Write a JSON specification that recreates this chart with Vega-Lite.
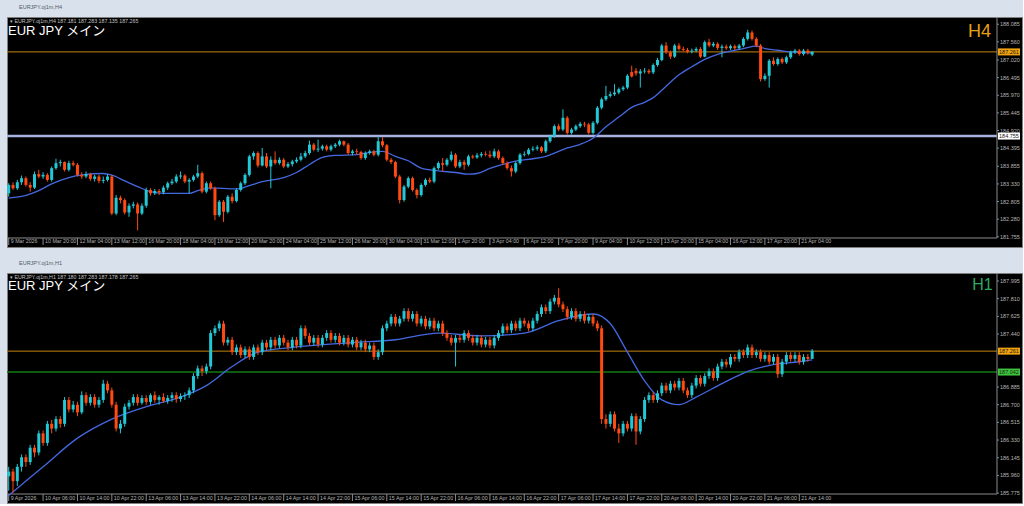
{
"$schema": "https://vega.github.io/schema/vega-lite/v6.json",
"background": "#d9e2ec",
"padding": {"left": 5, "top": 4, "right": 0, "bottom": 0},
"spacing": 12,
"config": {"view": {"fill": "#000000", "stroke": "#7f7f7f", "strokeWidth": 1}, "font": "Liberation Sans"},
"datasets": {
"h4": [
{"i":0,"o":183.05,"h":183.35,"l":182.95,"c":183.30},{"i":1,"o":183.30,"h":183.38,"l":183.15,"c":183.20},{"i":2,"o":183.20,"h":183.45,"l":183.15,"c":183.38},{"i":3,"o":183.38,"h":183.58,"l":183.30,"c":183.50},{"i":4,"o":183.50,"h":183.55,"l":183.25,"c":183.30},{"i":5,"o":183.30,"h":183.38,"l":183.10,"c":183.22},{"i":6,"o":183.22,"h":183.70,"l":183.18,"c":183.62},{"i":7,"o":183.62,"h":183.75,"l":183.50,"c":183.55},{"i":8,"o":183.55,"h":183.68,"l":183.48,"c":183.60},{"i":9,"o":183.60,"h":183.65,"l":183.40,"c":183.45},
{"i":10,"o":183.45,"h":183.85,"l":183.40,"c":183.80},{"i":11,"o":183.80,"h":184.08,"l":183.75,"c":183.95},{"i":12,"o":183.95,"h":184.05,"l":183.85,"c":183.98},{"i":13,"o":183.98,"h":184.00,"l":183.70,"c":183.75},{"i":14,"o":183.75,"h":184.02,"l":183.70,"c":183.95},{"i":15,"o":183.95,"h":184.02,"l":183.85,"c":183.90},{"i":16,"o":183.90,"h":183.95,"l":183.55,"c":183.60},{"i":17,"o":183.60,"h":183.68,"l":183.48,"c":183.55},{"i":18,"o":183.55,"h":183.70,"l":183.50,"c":183.62},{"i":19,"o":183.62,"h":183.66,"l":183.42,"c":183.48},
{"i":20,"o":183.48,"h":183.60,"l":183.40,"c":183.55},{"i":21,"o":183.55,"h":183.60,"l":183.35,"c":183.42},{"i":22,"o":183.42,"h":183.55,"l":183.35,"c":183.45},{"i":23,"o":183.45,"h":183.62,"l":183.40,"c":183.55},{"i":24,"o":183.55,"h":183.60,"l":182.40,"c":182.45},{"i":25,"o":182.45,"h":183.00,"l":182.40,"c":182.92},{"i":26,"o":182.92,"h":182.98,"l":182.75,"c":182.85},{"i":27,"o":182.85,"h":182.90,"l":182.42,"c":182.48},{"i":28,"o":182.48,"h":182.75,"l":182.35,"c":182.68},{"i":29,"o":182.68,"h":182.80,"l":182.60,"c":182.72},
{"i":30,"o":182.72,"h":182.78,"l":181.95,"c":182.45},{"i":31,"o":182.45,"h":182.75,"l":182.40,"c":182.68},{"i":32,"o":182.68,"h":183.22,"l":182.62,"c":183.15},{"i":33,"o":183.15,"h":183.20,"l":182.98,"c":183.05},{"i":34,"o":183.05,"h":183.18,"l":183.00,"c":183.12},{"i":35,"o":183.12,"h":183.18,"l":183.00,"c":183.08},{"i":36,"o":183.08,"h":183.28,"l":183.02,"c":183.22},{"i":37,"o":183.22,"h":183.40,"l":183.15,"c":183.35},{"i":38,"o":183.35,"h":183.48,"l":183.30,"c":183.40},{"i":39,"o":183.40,"h":183.62,"l":183.35,"c":183.55},
{"i":40,"o":183.55,"h":183.70,"l":183.48,"c":183.58},{"i":41,"o":183.58,"h":183.62,"l":183.35,"c":183.40},{"i":42,"o":183.40,"h":183.50,"l":183.05,"c":183.45},{"i":43,"o":183.45,"h":183.60,"l":183.40,"c":183.55},{"i":44,"o":183.55,"h":183.90,"l":183.50,"c":183.65},{"i":45,"o":183.65,"h":183.70,"l":183.05,"c":183.10},{"i":46,"o":183.10,"h":183.40,"l":183.05,"c":183.35},{"i":47,"o":183.35,"h":183.40,"l":183.15,"c":183.20},{"i":48,"o":183.20,"h":183.25,"l":182.25,"c":182.40},{"i":49,"o":182.40,"h":182.85,"l":182.35,"c":182.80},
{"i":50,"o":182.80,"h":182.85,"l":182.20,"c":182.50},{"i":51,"o":182.50,"h":183.00,"l":182.45,"c":182.95},{"i":52,"o":182.95,"h":183.05,"l":182.75,"c":182.82},{"i":53,"o":182.82,"h":183.20,"l":182.78,"c":183.15},{"i":54,"o":183.15,"h":183.40,"l":183.10,"c":183.35},{"i":55,"o":183.35,"h":183.65,"l":183.30,"c":183.60},{"i":56,"o":183.60,"h":184.20,"l":183.55,"c":184.15},{"i":57,"o":184.15,"h":184.30,"l":184.05,"c":184.25},{"i":58,"o":184.25,"h":184.30,"l":183.82,"c":183.88},{"i":59,"o":183.88,"h":184.40,"l":183.85,"c":184.15},
{"i":60,"o":184.15,"h":184.25,"l":183.80,"c":183.85},{"i":61,"o":183.85,"h":184.15,"l":183.20,"c":184.05},{"i":62,"o":184.05,"h":184.30,"l":183.90,"c":183.95},{"i":63,"o":183.95,"h":184.12,"l":183.90,"c":184.05},{"i":64,"o":184.05,"h":184.10,"l":183.80,"c":183.85},{"i":65,"o":183.85,"h":183.98,"l":183.80,"c":183.92},{"i":66,"o":183.92,"h":184.05,"l":183.85,"c":184.00},{"i":67,"o":184.00,"h":184.12,"l":183.95,"c":184.05},{"i":68,"o":184.05,"h":184.25,"l":184.00,"c":184.15},{"i":69,"o":184.15,"h":184.32,"l":184.10,"c":184.25},
{"i":70,"o":184.25,"h":184.62,"l":184.20,"c":184.50},{"i":71,"o":184.50,"h":184.55,"l":184.30,"c":184.35},{"i":72,"o":184.35,"h":184.65,"l":184.28,"c":184.38},{"i":73,"o":184.38,"h":184.50,"l":184.32,"c":184.45},{"i":74,"o":184.45,"h":184.50,"l":184.30,"c":184.35},{"i":75,"o":184.35,"h":184.50,"l":184.30,"c":184.45},{"i":76,"o":184.45,"h":184.55,"l":184.40,"c":184.50},{"i":77,"o":184.50,"h":184.65,"l":184.45,"c":184.60},{"i":78,"o":184.60,"h":184.62,"l":184.45,"c":184.50},{"i":79,"o":184.50,"h":184.55,"l":184.20,"c":184.25},
{"i":80,"o":184.25,"h":184.35,"l":184.18,"c":184.30},{"i":81,"o":184.30,"h":184.38,"l":184.20,"c":184.28},{"i":82,"o":184.28,"h":184.32,"l":184.05,"c":184.10},{"i":83,"o":184.10,"h":184.30,"l":184.05,"c":184.25},{"i":84,"o":184.25,"h":184.35,"l":184.20,"c":184.30},{"i":85,"o":184.30,"h":184.35,"l":184.15,"c":184.20},{"i":86,"o":184.20,"h":184.75,"l":184.15,"c":184.60},{"i":87,"o":184.60,"h":184.72,"l":184.42,"c":184.48},{"i":88,"o":184.48,"h":184.52,"l":184.00,"c":184.05},{"i":89,"o":184.05,"h":184.10,"l":183.92,"c":183.98},
{"i":90,"o":183.98,"h":184.02,"l":183.50,"c":183.55},{"i":91,"o":183.55,"h":183.60,"l":182.75,"c":182.85},{"i":92,"o":182.85,"h":183.30,"l":182.80,"c":183.25},{"i":93,"o":183.25,"h":183.55,"l":183.20,"c":183.50},{"i":94,"o":183.50,"h":183.55,"l":183.10,"c":183.15},{"i":95,"o":183.15,"h":183.20,"l":182.90,"c":183.00},{"i":96,"o":183.00,"h":183.35,"l":182.95,"c":183.30},{"i":97,"o":183.30,"h":183.50,"l":183.25,"c":183.45},{"i":98,"o":183.45,"h":183.52,"l":183.35,"c":183.40},{"i":99,"o":183.40,"h":183.85,"l":183.35,"c":183.80},
{"i":100,"o":183.80,"h":184.00,"l":183.75,"c":183.95},{"i":101,"o":183.95,"h":184.10,"l":183.70,"c":183.90},{"i":102,"o":183.90,"h":184.10,"l":183.85,"c":184.05},{"i":103,"o":184.05,"h":184.30,"l":184.00,"c":184.20},{"i":104,"o":184.20,"h":184.25,"l":183.80,"c":183.85},{"i":105,"o":183.85,"h":184.05,"l":183.80,"c":183.98},{"i":106,"o":183.98,"h":184.05,"l":183.75,"c":183.90},{"i":107,"o":183.90,"h":184.20,"l":183.85,"c":184.15},{"i":108,"o":184.15,"h":184.20,"l":184.08,"c":184.12},{"i":109,"o":184.12,"h":184.25,"l":184.08,"c":184.18},
{"i":110,"o":184.18,"h":184.28,"l":184.12,"c":184.22},{"i":111,"o":184.22,"h":184.30,"l":184.15,"c":184.20},{"i":112,"o":184.20,"h":184.32,"l":184.10,"c":184.15},{"i":113,"o":184.15,"h":184.38,"l":184.10,"c":184.30},{"i":114,"o":184.30,"h":184.35,"l":184.05,"c":184.10},{"i":115,"o":184.10,"h":184.15,"l":183.90,"c":183.95},{"i":116,"o":183.95,"h":184.00,"l":183.75,"c":183.80},{"i":117,"o":183.80,"h":183.88,"l":183.55,"c":183.70},{"i":118,"o":183.70,"h":184.00,"l":183.65,"c":183.95},{"i":119,"o":183.95,"h":184.25,"l":183.90,"c":184.20},
{"i":120,"o":184.20,"h":184.30,"l":184.15,"c":184.22},{"i":121,"o":184.22,"h":184.40,"l":184.18,"c":184.35},{"i":122,"o":184.35,"h":184.45,"l":184.30,"c":184.38},{"i":123,"o":184.38,"h":184.48,"l":184.32,"c":184.42},{"i":124,"o":184.42,"h":184.46,"l":184.25,"c":184.30},{"i":125,"o":184.30,"h":184.65,"l":184.25,"c":184.60},{"i":126,"o":184.60,"h":184.80,"l":184.55,"c":184.75},{"i":127,"o":184.75,"h":185.10,"l":184.70,"c":185.05},{"i":128,"o":185.05,"h":185.12,"l":184.90,"c":184.95},{"i":129,"o":184.95,"h":185.55,"l":184.90,"c":185.30},
{"i":130,"o":185.30,"h":185.35,"l":184.80,"c":184.85},{"i":131,"o":184.85,"h":185.00,"l":184.80,"c":184.95},{"i":132,"o":184.95,"h":185.10,"l":184.90,"c":185.05},{"i":133,"o":185.05,"h":185.18,"l":185.00,"c":185.12},{"i":134,"o":185.12,"h":185.18,"l":185.02,"c":185.10},{"i":135,"o":185.10,"h":185.15,"l":184.80,"c":184.85},{"i":136,"o":184.85,"h":185.20,"l":184.80,"c":185.15},{"i":137,"o":185.15,"h":185.65,"l":185.10,"c":185.60},{"i":138,"o":185.60,"h":185.90,"l":185.55,"c":185.85},{"i":139,"o":185.85,"h":186.25,"l":185.80,"c":185.95},
{"i":140,"o":185.95,"h":186.08,"l":185.90,"c":186.00},{"i":141,"o":186.00,"h":186.30,"l":185.95,"c":186.05},{"i":142,"o":186.05,"h":186.20,"l":186.00,"c":186.15},{"i":143,"o":186.15,"h":186.25,"l":186.10,"c":186.20},{"i":144,"o":186.20,"h":186.60,"l":186.15,"c":186.55},{"i":145,"o":186.66,"h":186.85,"l":186.50,"c":186.53},{"i":146,"o":186.70,"h":186.78,"l":186.55,"c":186.62},{"i":147,"o":186.62,"h":186.75,"l":186.20,"c":186.68},{"i":148,"o":186.68,"h":186.78,"l":186.62,"c":186.70},{"i":149,"o":186.70,"h":186.75,"l":186.60,"c":186.65},
{"i":150,"o":186.65,"h":186.92,"l":186.60,"c":186.87},{"i":151,"o":186.87,"h":187.08,"l":186.82,"c":187.02},{"i":152,"o":187.02,"h":187.50,"l":186.98,"c":187.45},{"i":153,"o":187.45,"h":187.55,"l":187.20,"c":187.25},{"i":154,"o":187.25,"h":187.30,"l":187.05,"c":187.12},{"i":155,"o":187.12,"h":187.50,"l":187.08,"c":187.45},{"i":156,"o":187.45,"h":187.52,"l":187.30,"c":187.35},{"i":157,"o":187.35,"h":187.42,"l":187.28,"c":187.32},{"i":158,"o":187.32,"h":187.38,"l":187.22,"c":187.27},{"i":159,"o":187.27,"h":187.36,"l":187.22,"c":187.30},
{"i":160,"o":187.30,"h":187.40,"l":187.25,"c":187.35},{"i":161,"o":187.35,"h":187.40,"l":187.08,"c":187.12},{"i":162,"o":187.12,"h":187.60,"l":187.10,"c":187.55},{"i":163,"o":187.55,"h":187.65,"l":187.40,"c":187.45},{"i":164,"o":187.45,"h":187.56,"l":187.40,"c":187.50},{"i":165,"o":187.50,"h":187.55,"l":187.32,"c":187.38},{"i":166,"o":187.38,"h":187.48,"l":187.10,"c":187.42},{"i":167,"o":187.42,"h":187.48,"l":187.32,"c":187.37},{"i":168,"o":187.37,"h":187.48,"l":187.32,"c":187.43},{"i":169,"o":187.43,"h":187.48,"l":187.32,"c":187.37},
{"i":170,"o":187.37,"h":187.50,"l":187.32,"c":187.45},{"i":171,"o":187.45,"h":187.70,"l":187.40,"c":187.65},{"i":172,"o":187.65,"h":187.92,"l":187.60,"c":187.84},{"i":173,"o":187.84,"h":187.90,"l":187.60,"c":187.65},{"i":174,"o":187.65,"h":187.70,"l":187.40,"c":187.45},{"i":175,"o":187.45,"h":187.50,"l":186.38,"c":186.45},{"i":176,"o":186.45,"h":186.62,"l":186.40,"c":186.55},{"i":177,"o":186.55,"h":187.05,"l":186.20,"c":187.00},{"i":178,"o":187.00,"h":187.10,"l":186.85,"c":186.90},{"i":179,"o":186.90,"h":187.10,"l":186.85,"c":187.05},
{"i":180,"o":187.05,"h":187.10,"l":186.90,"c":186.95},{"i":181,"o":186.95,"h":187.15,"l":186.90,"c":187.10},{"i":182,"o":187.10,"h":187.30,"l":187.05,"c":187.25},{"i":183,"o":187.25,"h":187.35,"l":187.20,"c":187.30},{"i":184,"o":187.30,"h":187.35,"l":187.15,"c":187.20},{"i":185,"o":187.20,"h":187.35,"l":187.15,"c":187.30},{"i":186,"o":187.30,"h":187.35,"l":187.18,"c":187.23},{"i":187,"o":187.181,"h":187.283,"l":187.135,"c":187.265}
],
"h4ma": [{"i":0,"m":182.91},{"i":4,"m":182.99},{"i":7,"m":183.13},{"i":10,"m":183.33},{"i":14,"m":183.52},{"i":17,"m":183.6},{"i":22,"m":183.64},{"i":24,"m":183.59},{"i":27,"m":183.42},{"i":30,"m":183.25},{"i":33,"m":183.1},{"i":36,"m":183.05},{"i":42,"m":183.05},{"i":44,"m":183.13},{"i":47,"m":183.21},{"i":53,"m":183.18},{"i":56,"m":183.28},{"i":59,"m":183.4},{"i":64,"m":183.52},{"i":67,"m":183.67},{"i":70,"m":183.91},{"i":73,"m":184.12},{"i":76,"m":184.18},{"i":81,"m":184.2},{"i":84,"m":184.27},{"i":87,"m":184.3},{"i":90,"m":184.15},{"i":93,"m":184.02},{"i":96,"m":183.8},{"i":100,"m":183.72},{"i":104,"m":183.67},{"i":107,"m":183.62},{"i":109,"m":183.64},{"i":112,"m":183.79},{"i":115,"m":183.91},{"i":118,"m":184.01},{"i":122,"m":184.08},{"i":125,"m":184.15},{"i":128,"m":184.3},{"i":130,"m":184.4},{"i":133,"m":184.51},{"i":136,"m":184.69},{"i":139,"m":185.03},{"i":142,"m":185.32},{"i":145,"m":185.61},{"i":148,"m":185.76},{"i":150,"m":185.9},{"i":153,"m":186.24},{"i":156,"m":186.58},{"i":159,"m":186.82},{"i":162,"m":187.04},{"i":165,"m":187.19},{"i":168,"m":187.28},{"i":171,"m":187.36},{"i":174,"m":187.43},{"i":176,"m":187.36},{"i":179,"m":187.31},{"i":182,"m":187.26},{"i":185,"m":187.24},{"i":187,"m":187.23}],
"h1": [
{"i":0,"o":185.95,"h":186.05,"l":185.80,"c":186.00},{"i":1,"o":186.00,"h":186.03,"l":185.78,"c":185.90},{"i":2,"o":185.90,"h":186.08,"l":185.85,"c":186.05},{"i":3,"o":186.05,"h":186.18,"l":186.00,"c":186.15},{"i":4,"o":186.15,"h":186.18,"l":186.05,"c":186.10},{"i":5,"o":186.10,"h":186.28,"l":186.07,"c":186.25},{"i":6,"o":186.25,"h":186.28,"l":186.15,"c":186.20},{"i":7,"o":186.20,"h":186.43,"l":186.17,"c":186.40},{"i":8,"o":186.40,"h":186.43,"l":186.27,"c":186.30},{"i":9,"o":186.30,"h":186.53,"l":186.27,"c":186.50},
{"i":10,"o":186.50,"h":186.54,"l":186.40,"c":186.45},{"i":11,"o":186.45,"h":186.58,"l":186.42,"c":186.55},{"i":12,"o":186.55,"h":186.58,"l":186.46,"c":186.50},{"i":13,"o":186.50,"h":186.78,"l":186.47,"c":186.75},{"i":14,"o":186.75,"h":186.78,"l":186.62,"c":186.65},{"i":15,"o":186.65,"h":186.74,"l":186.62,"c":186.70},{"i":16,"o":186.70,"h":186.73,"l":186.58,"c":186.62},{"i":17,"o":186.62,"h":186.84,"l":186.60,"c":186.80},{"i":18,"o":186.80,"h":186.83,"l":186.69,"c":186.72},{"i":19,"o":186.72,"h":186.81,"l":186.69,"c":186.78},
{"i":20,"o":186.78,"h":186.81,"l":186.67,"c":186.70},{"i":21,"o":186.70,"h":186.78,"l":186.67,"c":186.75},{"i":22,"o":186.75,"h":186.96,"l":186.72,"c":186.92},{"i":23,"o":186.92,"h":186.95,"l":186.82,"c":186.85},{"i":24,"o":186.85,"h":186.88,"l":186.67,"c":186.70},{"i":25,"o":186.70,"h":186.73,"l":186.42,"c":186.45},{"i":26,"o":186.45,"h":186.54,"l":186.40,"c":186.50},{"i":27,"o":186.50,"h":186.71,"l":186.47,"c":186.68},{"i":28,"o":186.68,"h":186.75,"l":186.65,"c":186.72},{"i":29,"o":186.72,"h":186.81,"l":186.69,"c":186.78},
{"i":30,"o":186.78,"h":186.81,"l":186.69,"c":186.72},{"i":31,"o":186.72,"h":186.80,"l":186.70,"c":186.77},{"i":32,"o":186.77,"h":186.80,"l":186.70,"c":186.73},{"i":33,"o":186.73,"h":186.82,"l":186.70,"c":186.80},{"i":34,"o":186.80,"h":186.84,"l":186.72,"c":186.75},{"i":35,"o":186.75,"h":186.80,"l":186.70,"c":186.78},{"i":36,"o":186.78,"h":186.82,"l":186.72,"c":186.74},{"i":37,"o":186.74,"h":186.80,"l":186.71,"c":186.77},{"i":38,"o":186.77,"h":186.83,"l":186.73,"c":186.80},{"i":39,"o":186.80,"h":186.83,"l":186.72,"c":186.76},
{"i":40,"o":186.76,"h":186.82,"l":186.73,"c":186.79},{"i":41,"o":186.79,"h":186.83,"l":186.75,"c":186.80},{"i":42,"o":186.80,"h":186.88,"l":186.77,"c":186.85},{"i":43,"o":186.85,"h":187.03,"l":186.82,"c":187.00},{"i":44,"o":187.00,"h":187.11,"l":186.97,"c":187.08},{"i":45,"o":187.08,"h":187.11,"l":187.00,"c":187.05},{"i":46,"o":187.05,"h":187.13,"l":187.02,"c":187.10},{"i":47,"o":187.10,"h":187.48,"l":187.07,"c":187.45},{"i":48,"o":187.45,"h":187.53,"l":187.42,"c":187.50},{"i":49,"o":187.50,"h":187.58,"l":187.47,"c":187.55},
{"i":50,"o":187.55,"h":187.58,"l":187.32,"c":187.35},{"i":51,"o":187.35,"h":187.41,"l":187.32,"c":187.38},{"i":52,"o":187.38,"h":187.41,"l":187.22,"c":187.25},{"i":53,"o":187.25,"h":187.33,"l":187.22,"c":187.30},{"i":54,"o":187.30,"h":187.33,"l":187.19,"c":187.22},{"i":55,"o":187.22,"h":187.31,"l":187.19,"c":187.28},{"i":56,"o":187.28,"h":187.31,"l":187.17,"c":187.20},{"i":57,"o":187.20,"h":187.33,"l":187.17,"c":187.30},{"i":58,"o":187.30,"h":187.33,"l":187.22,"c":187.25},{"i":59,"o":187.25,"h":187.38,"l":187.22,"c":187.35},
{"i":60,"o":187.35,"h":187.38,"l":187.27,"c":187.30},{"i":61,"o":187.30,"h":187.41,"l":187.27,"c":187.38},{"i":62,"o":187.38,"h":187.41,"l":187.29,"c":187.32},{"i":63,"o":187.32,"h":187.43,"l":187.29,"c":187.40},{"i":64,"o":187.40,"h":187.43,"l":187.32,"c":187.35},{"i":65,"o":187.35,"h":187.38,"l":187.27,"c":187.30},{"i":66,"o":187.30,"h":187.41,"l":187.27,"c":187.38},{"i":67,"o":187.38,"h":187.41,"l":187.29,"c":187.32},{"i":68,"o":187.32,"h":187.53,"l":187.29,"c":187.50},{"i":69,"o":187.50,"h":187.53,"l":187.39,"c":187.42},
{"i":70,"o":187.42,"h":187.45,"l":187.32,"c":187.35},{"i":71,"o":187.35,"h":187.43,"l":187.32,"c":187.40},{"i":72,"o":187.40,"h":187.43,"l":187.30,"c":187.33},{"i":73,"o":187.33,"h":187.43,"l":187.30,"c":187.40},{"i":74,"o":187.40,"h":187.48,"l":187.37,"c":187.45},{"i":75,"o":187.45,"h":187.48,"l":187.35,"c":187.38},{"i":76,"o":187.38,"h":187.45,"l":187.35,"c":187.42},{"i":77,"o":187.42,"h":187.45,"l":187.32,"c":187.35},{"i":78,"o":187.35,"h":187.43,"l":187.32,"c":187.40},{"i":79,"o":187.40,"h":187.43,"l":187.30,"c":187.33},
{"i":80,"o":187.33,"h":187.41,"l":187.30,"c":187.38},{"i":81,"o":187.38,"h":187.41,"l":187.27,"c":187.30},{"i":82,"o":187.30,"h":187.38,"l":187.27,"c":187.35},{"i":83,"o":187.35,"h":187.38,"l":187.25,"c":187.28},{"i":84,"o":187.28,"h":187.35,"l":187.25,"c":187.32},{"i":85,"o":187.32,"h":187.35,"l":187.17,"c":187.20},{"i":86,"o":187.20,"h":187.28,"l":187.17,"c":187.25},{"i":87,"o":187.25,"h":187.53,"l":187.22,"c":187.50},{"i":88,"o":187.50,"h":187.58,"l":187.47,"c":187.55},{"i":89,"o":187.55,"h":187.65,"l":187.52,"c":187.62},
{"i":90,"o":187.62,"h":187.65,"l":187.52,"c":187.55},{"i":91,"o":187.55,"h":187.63,"l":187.52,"c":187.60},{"i":92,"o":187.60,"h":187.71,"l":187.57,"c":187.68},{"i":93,"o":187.68,"h":187.71,"l":187.57,"c":187.60},{"i":94,"o":187.60,"h":187.68,"l":187.57,"c":187.65},{"i":95,"o":187.65,"h":187.68,"l":187.52,"c":187.55},{"i":96,"o":187.55,"h":187.63,"l":187.52,"c":187.60},{"i":97,"o":187.60,"h":187.63,"l":187.49,"c":187.52},{"i":98,"o":187.52,"h":187.61,"l":187.49,"c":187.58},{"i":99,"o":187.58,"h":187.61,"l":187.47,"c":187.50},
{"i":100,"o":187.50,"h":187.58,"l":187.47,"c":187.55},{"i":101,"o":187.55,"h":187.58,"l":187.42,"c":187.45},{"i":102,"o":187.45,"h":187.48,"l":187.37,"c":187.40},{"i":103,"o":187.40,"h":187.43,"l":187.32,"c":187.35},{"i":104,"o":187.35,"h":187.43,"l":187.10,"c":187.40},{"i":105,"o":187.40,"h":187.43,"l":187.35,"c":187.38},{"i":106,"o":187.38,"h":187.48,"l":187.35,"c":187.45},{"i":107,"o":187.45,"h":187.48,"l":187.37,"c":187.40},{"i":108,"o":187.40,"h":187.43,"l":187.32,"c":187.35},{"i":109,"o":187.35,"h":187.43,"l":187.32,"c":187.40},
{"i":110,"o":187.40,"h":187.43,"l":187.30,"c":187.33},{"i":111,"o":187.33,"h":187.41,"l":187.30,"c":187.38},{"i":112,"o":187.38,"h":187.41,"l":187.29,"c":187.32},{"i":113,"o":187.32,"h":187.43,"l":187.29,"c":187.40},{"i":114,"o":187.40,"h":187.48,"l":187.37,"c":187.45},{"i":115,"o":187.45,"h":187.55,"l":187.42,"c":187.52},{"i":116,"o":187.52,"h":187.55,"l":187.45,"c":187.48},{"i":117,"o":187.48,"h":187.58,"l":187.45,"c":187.55},{"i":118,"o":187.55,"h":187.58,"l":187.47,"c":187.50},{"i":119,"o":187.50,"h":187.61,"l":187.47,"c":187.58},
{"i":120,"o":187.58,"h":187.61,"l":187.52,"c":187.55},{"i":121,"o":187.55,"h":187.58,"l":187.47,"c":187.50},{"i":122,"o":187.50,"h":187.61,"l":187.47,"c":187.58},{"i":123,"o":187.58,"h":187.68,"l":187.55,"c":187.65},{"i":124,"o":187.65,"h":187.75,"l":187.62,"c":187.72},{"i":125,"o":187.72,"h":187.75,"l":187.65,"c":187.68},{"i":126,"o":187.68,"h":187.81,"l":187.65,"c":187.78},{"i":127,"o":187.78,"h":187.85,"l":187.75,"c":187.82},{"i":128,"o":187.82,"h":187.92,"l":187.72,"c":187.75},{"i":129,"o":187.75,"h":187.78,"l":187.67,"c":187.70},
{"i":130,"o":187.70,"h":187.73,"l":187.59,"c":187.62},{"i":131,"o":187.62,"h":187.71,"l":187.59,"c":187.68},{"i":132,"o":187.68,"h":187.71,"l":187.57,"c":187.60},{"i":133,"o":187.60,"h":187.68,"l":187.57,"c":187.65},{"i":134,"o":187.65,"h":187.68,"l":187.55,"c":187.58},{"i":135,"o":187.58,"h":187.65,"l":187.55,"c":187.62},{"i":136,"o":187.62,"h":187.65,"l":187.52,"c":187.55},{"i":137,"o":187.55,"h":187.58,"l":187.47,"c":187.50},{"i":138,"o":187.50,"h":187.53,"l":186.50,"c":186.55},{"i":139,"o":186.55,"h":186.60,"l":186.45,"c":186.50},
{"i":140,"o":186.50,"h":186.63,"l":186.47,"c":186.60},{"i":141,"o":186.60,"h":186.63,"l":186.42,"c":186.45},{"i":142,"o":186.45,"h":186.50,"l":186.30,"c":186.40},{"i":143,"o":186.40,"h":186.53,"l":186.37,"c":186.50},{"i":144,"o":186.50,"h":186.53,"l":186.42,"c":186.45},{"i":145,"o":186.45,"h":186.61,"l":186.42,"c":186.58},{"i":146,"o":186.58,"h":186.61,"l":186.28,"c":186.42},{"i":147,"o":186.42,"h":186.58,"l":186.39,"c":186.55},{"i":148,"o":186.55,"h":186.78,"l":186.52,"c":186.75},{"i":149,"o":186.75,"h":186.83,"l":186.72,"c":186.80},
{"i":150,"o":186.80,"h":186.83,"l":186.72,"c":186.75},{"i":151,"o":186.75,"h":186.85,"l":186.72,"c":186.82},{"i":152,"o":186.82,"h":186.93,"l":186.79,"c":186.90},{"i":153,"o":186.90,"h":186.93,"l":186.82,"c":186.85},{"i":154,"o":186.85,"h":186.95,"l":186.82,"c":186.92},{"i":155,"o":186.92,"h":186.95,"l":186.85,"c":186.88},{"i":156,"o":186.88,"h":186.98,"l":186.85,"c":186.95},{"i":157,"o":186.95,"h":186.98,"l":186.82,"c":186.85},{"i":158,"o":186.85,"h":186.88,"l":186.77,"c":186.80},{"i":159,"o":186.80,"h":186.93,"l":186.77,"c":186.90},
{"i":160,"o":186.90,"h":187.01,"l":186.87,"c":186.98},{"i":161,"o":186.98,"h":187.01,"l":186.89,"c":186.92},{"i":162,"o":186.92,"h":187.03,"l":186.89,"c":187.00},{"i":163,"o":187.00,"h":187.08,"l":186.97,"c":187.05},{"i":164,"o":187.05,"h":187.08,"l":186.95,"c":186.98},{"i":165,"o":186.98,"h":187.13,"l":186.95,"c":187.10},{"i":166,"o":187.10,"h":187.18,"l":187.07,"c":187.15},{"i":167,"o":187.15,"h":187.18,"l":187.09,"c":187.12},{"i":168,"o":187.12,"h":187.23,"l":187.09,"c":187.20},{"i":169,"o":187.20,"h":187.23,"l":187.15,"c":187.18},
{"i":170,"o":187.18,"h":187.28,"l":187.15,"c":187.25},{"i":171,"o":187.25,"h":187.28,"l":187.19,"c":187.22},{"i":172,"o":187.22,"h":187.33,"l":187.19,"c":187.30},{"i":173,"o":187.30,"h":187.33,"l":187.19,"c":187.22},{"i":174,"o":187.22,"h":187.28,"l":187.19,"c":187.25},{"i":175,"o":187.25,"h":187.28,"l":187.15,"c":187.18},{"i":176,"o":187.18,"h":187.25,"l":187.15,"c":187.22},{"i":177,"o":187.22,"h":187.25,"l":187.12,"c":187.15},{"i":178,"o":187.15,"h":187.23,"l":187.12,"c":187.20},{"i":179,"o":187.20,"h":187.23,"l":186.98,"c":187.02},
{"i":180,"o":187.02,"h":187.18,"l":186.99,"c":187.15},{"i":181,"o":187.15,"h":187.25,"l":187.12,"c":187.22},{"i":182,"o":187.22,"h":187.25,"l":187.15,"c":187.18},{"i":183,"o":187.18,"h":187.25,"l":187.15,"c":187.22},{"i":184,"o":187.22,"h":187.25,"l":187.12,"c":187.15},{"i":185,"o":187.15,"h":187.23,"l":187.12,"c":187.20},{"i":186,"o":187.20,"h":187.23,"l":187.15,"c":187.18},{"i":187,"o":187.18,"h":187.283,"l":187.178,"c":187.265}
],
"h1ma": [{"i":0,"m":185.75},{"i":8,"m":186.05},{"i":16,"m":186.35},{"i":24,"m":186.55},{"i":32,"m":186.68},{"i":40,"m":186.78},{"i":46,"m":186.9},{"i":52,"m":187.1},{"i":58,"m":187.25},{"i":66,"m":187.3},{"i":80,"m":187.35},{"i":90,"m":187.38},{"i":100,"m":187.45},{"i":110,"m":187.42},{"i":120,"m":187.45},{"i":128,"m":187.58},{"i":136,"m":187.65},{"i":140,"m":187.55},{"i":144,"m":187.25},{"i":148,"m":186.95},{"i":152,"m":186.75},{"i":156,"m":186.7},{"i":160,"m":186.78},{"i":166,"m":186.92},{"i":172,"m":187.05},{"i":178,"m":187.12},{"i":184,"m":187.15},{"i":187,"m":187.17}],
"h4t": [{"i":0,"t":"9 Mar 2026"},{"i":8,"t":"10 Mar 20:00"},{"i":16,"t":"12 Mar 04:00"},{"i":24,"t":"13 Mar 12:00"},{"i":32,"t":"16 Mar 20:00"},{"i":40,"t":"18 Mar 04:00"},{"i":48,"t":"19 Mar 12:00"},{"i":56,"t":"20 Mar 20:00"},{"i":64,"t":"24 Mar 04:00"},{"i":72,"t":"25 Mar 12:00"},{"i":80,"t":"26 Mar 20:00"},{"i":88,"t":"30 Mar 04:00"},{"i":96,"t":"31 Mar 12:00"},{"i":104,"t":"1 Apr 20:00"},{"i":112,"t":"3 Apr 04:00"},{"i":120,"t":"6 Apr 12:00"},{"i":128,"t":"7 Apr 20:00"},{"i":136,"t":"9 Apr 04:00"},{"i":144,"t":"10 Apr 12:00"},{"i":152,"t":"13 Apr 20:00"},{"i":160,"t":"15 Apr 04:00"},{"i":168,"t":"16 Apr 12:00"},{"i":176,"t":"17 Apr 20:00"},{"i":184,"t":"21 Apr 04:00"}],
"h1t": [{"i":0,"t":"9 Apr 2026"},{"i":8,"t":"10 Apr 06:00"},{"i":16,"t":"10 Apr 14:00"},{"i":24,"t":"10 Apr 22:00"},{"i":32,"t":"13 Apr 06:00"},{"i":40,"t":"13 Apr 14:00"},{"i":48,"t":"13 Apr 22:00"},{"i":56,"t":"14 Apr 06:00"},{"i":64,"t":"14 Apr 14:00"},{"i":72,"t":"14 Apr 22:00"},{"i":80,"t":"15 Apr 06:00"},{"i":88,"t":"15 Apr 14:00"},{"i":96,"t":"15 Apr 22:00"},{"i":104,"t":"16 Apr 06:00"},{"i":112,"t":"16 Apr 14:00"},{"i":120,"t":"16 Apr 22:00"},{"i":128,"t":"17 Apr 06:00"},{"i":136,"t":"17 Apr 14:00"},{"i":144,"t":"17 Apr 22:00"},{"i":152,"t":"20 Apr 06:00"},{"i":160,"t":"20 Apr 14:00"},{"i":168,"t":"20 Apr 22:00"},{"i":176,"t":"21 Apr 06:00"},{"i":184,"t":"21 Apr 14:00"}],
"h4y": [{"v":188.085},{"v":187.56},{"v":187.02},{"v":186.495},{"v":185.97},{"v":185.445},{"v":184.92},{"v":184.395},{"v":183.855},{"v":183.33},{"v":182.805},{"v":182.28},{"v":181.755}],
"h1y": [{"v":187.995},{"v":187.81},{"v":187.625},{"v":187.44},{"v":186.885},{"v":186.7},{"v":186.515},{"v":186.33},{"v":186.145},{"v":185.96},{"v":185.775}]
},
"vconcat": [
{
"width": 1015, "height": 230,
"title": {"text": "EURJPY.oj1m,H4", "anchor": "start", "frame": "group", "dx": 12, "offset": 6.5, "fontSize": 5.5, "font": "Liberation Sans", "fontWeight": "normal", "color": "#505a66"},
"layer": [
{"data": {"values": [{"v": 184.755}]},
 "mark": {"type": "rule", "color": "#a7b1dd", "strokeWidth": 2.5},
 "encoding": {
  "x": {"datum": -0.4, "type": "quantitative", "scale": {"domain": [-0.4, 235.84], "nice": false, "zero": false}, "axis": null},
  "x2": {"datum": 230.02},
  "y": {"field": "v", "type": "quantitative", "scale": {"domain": [181.452, 188.3], "nice": false, "zero": false}, "axis": null}}},
{"data": {"values": [{"v": 187.261}]},
 "mark": {"type": "rule", "color": "#c4850e", "strokeWidth": 1},
 "encoding": {
  "x": {"datum": -0.4, "type": "quantitative", "scale": {"domain": [-0.4, 235.84], "nice": false, "zero": false}, "axis": null},
  "x2": {"datum": 230.02},
  "y": {"field": "v", "type": "quantitative", "scale": {"domain": [181.452, 188.3], "nice": false, "zero": false}, "axis": null}}},
{"data": {"values": [{"a": -0.4, "b": 230.02, "p": 181.72, "q": 181.72}, {"a": 230.02, "b": 230.02, "p": 181.72, "q": 188.3}]},
 "mark": {"type": "rule", "color": "#8c8c8c", "strokeWidth": 1},
 "encoding": {
  "x": {"field": "a", "type": "quantitative", "scale": {"domain": [-0.4, 235.84], "nice": false, "zero": false}, "axis": null},
  "x2": {"field": "b"},
  "y": {"field": "p", "type": "quantitative", "scale": {"domain": [181.452, 188.3], "nice": false, "zero": false}, "axis": null},
  "y2": {"field": "q"}}},
{"data": {"name": "h4t"},
 "mark": {"type": "rule", "color": "#8c8c8c", "strokeWidth": 1},
 "encoding": {
  "x": {"field": "i", "type": "quantitative", "scale": {"domain": [-0.4, 235.84], "nice": false, "zero": false}, "axis": null},
  "y": {"datum": 181.72, "type": "quantitative", "scale": {"domain": [181.452, 188.3], "nice": false, "zero": false}, "axis": null},
  "y2": {"datum": 181.51}}},
{"data": {"name": "h4y"},
 "mark": {"type": "rule", "color": "#8c8c8c", "strokeWidth": 1},
 "encoding": {
  "x": {"datum": 230.02, "type": "quantitative", "scale": {"domain": [-0.4, 235.84], "nice": false, "zero": false}, "axis": null},
  "x2": {"datum": 230.49},
  "y": {"field": "v", "type": "quantitative", "scale": {"domain": [181.452, 188.3], "nice": false, "zero": false}, "axis": null}}},
{"data": {"name": "h4y"},
 "mark": {"type": "text", "fontSize": 5.5, "color": "#b4b4b4", "align": "left", "baseline": "middle"},
 "encoding": {
  "x": {"datum": 230.72, "type": "quantitative", "scale": {"domain": [-0.4, 235.84], "nice": false, "zero": false}, "axis": null},
  "y": {"field": "v", "type": "quantitative", "scale": {"domain": [181.452, 188.3], "nice": false, "zero": false}, "axis": null},
  "text": {"field": "v", "type": "quantitative", "format": ".3f"}}},
{"data": {"name": "h4ma"},
 "mark": {"type": "line", "color": "#4468e0", "strokeWidth": 1.3, "interpolate": "monotone"},
 "encoding": {
  "x": {"field": "i", "type": "quantitative", "scale": {"domain": [-0.4, 235.84], "nice": false, "zero": false}, "axis": null},
  "y": {"field": "m", "type": "quantitative", "scale": {"domain": [181.452, 188.3], "nice": false, "zero": false}, "axis": null}}},
{"data": {"name": "h4"},
 "mark": {"type": "rule", "strokeWidth": 1},
 "encoding": {
  "x": {"field": "i", "type": "quantitative", "scale": {"domain": [-0.4, 235.84], "nice": false, "zero": false}, "axis": null},
  "y": {"field": "l", "type": "quantitative", "scale": {"domain": [181.452, 188.3], "nice": false, "zero": false}, "axis": null},
  "y2": {"field": "h"},
  "color": {"condition": {"test": "datum.c >= datum.o", "value": "#22c8d6"}, "value": "#ff4a12"}}},
{"data": {"name": "h4"},
 "mark": {"type": "rule", "strokeWidth": 3, "strokeCap": "butt"},
 "encoding": {
  "x": {"field": "i", "type": "quantitative", "scale": {"domain": [-0.4, 235.84], "nice": false, "zero": false}, "axis": null},
  "y": {"field": "o", "type": "quantitative", "scale": {"domain": [181.452, 188.3], "nice": false, "zero": false}, "axis": null},
  "y2": {"field": "c"},
  "color": {"condition": {"test": "datum.c >= datum.o", "value": "#22c8d6"}, "value": "#ff4a12"}}},
{"data": {"name": "h4t"},
 "mark": {"type": "text", "fontSize": 5.3, "color": "#b4b4b4", "align": "left", "baseline": "top", "dx": 2},
 "encoding": {
  "x": {"field": "i", "type": "quantitative", "scale": {"domain": [-0.4, 235.84], "nice": false, "zero": false}, "axis": null},
  "y": {"datum": 181.69, "type": "quantitative", "scale": {"domain": [181.452, 188.3], "nice": false, "zero": false}, "axis": null},
  "text": {"field": "t"}}},
{"data": {"values": [{"v": 187.261}]},
 "mark": {"type": "tick", "orient": "horizontal", "size": 22, "thickness": 7, "opacity": 1, "color": "#f2a20c"},
 "encoding": {
  "x": {"datum": 232.81, "type": "quantitative", "scale": {"domain": [-0.4, 235.84], "nice": false, "zero": false}, "axis": null},
  "y": {"field": "v", "type": "quantitative", "scale": {"domain": [181.452, 188.3], "nice": false, "zero": false}, "axis": null}}},
{"data": {"values": [{"v": 184.755}]},
 "mark": {"type": "tick", "orient": "horizontal", "size": 22, "thickness": 7, "opacity": 1, "color": "#ffffff"},
 "encoding": {
  "x": {"datum": 232.81, "type": "quantitative", "scale": {"domain": [-0.4, 235.84], "nice": false, "zero": false}, "axis": null},
  "y": {"field": "v", "type": "quantitative", "scale": {"domain": [181.452, 188.3], "nice": false, "zero": false}, "axis": null}}},
{"data": {"values": [{"v": 187.261}, {"v": 184.755}]},
 "mark": {"type": "text", "fontSize": 5.5, "color": "#202020", "align": "center", "baseline": "middle"},
 "encoding": {
  "x": {"datum": 232.81, "type": "quantitative", "scale": {"domain": [-0.4, 235.84], "nice": false, "zero": false}, "axis": null},
  "y": {"field": "v", "type": "quantitative", "scale": {"domain": [181.452, 188.3], "nice": false, "zero": false}, "axis": null},
  "text": {"field": "v", "type": "quantitative", "format": ".3f"}}},
{"data": {"values": [{"t": "EUR JPY  メイン"}]},
 "mark": {"type": "text", "fontSize": 13, "font": "Liberation Sans, Noto Sans CJK JP", "color": "#ffffff", "align": "left", "baseline": "middle"},
 "encoding": {
  "x": {"datum": -0.17, "type": "quantitative", "scale": {"domain": [-0.4, 235.84], "nice": false, "zero": false}, "axis": null},
  "y": {"datum": 187.898, "type": "quantitative", "scale": {"domain": [181.452, 188.3], "nice": false, "zero": false}, "axis": null},
  "text": {"field": "t"}}},
{"data": {"values": [{"t": "▾ EURJPY.oj1m,H4  187.181 187.283 187.135 187.265"}]},
 "mark": {"type": "text", "fontSize": 5.3, "color": "#c0c0c0", "align": "left", "baseline": "middle"},
 "encoding": {
  "x": {"datum": 0.3, "type": "quantitative", "scale": {"domain": [-0.4, 235.84], "nice": false, "zero": false}, "axis": null},
  "y": {"datum": 188.187, "type": "quantitative", "scale": {"domain": [181.452, 188.3], "nice": false, "zero": false}, "axis": null},
  "text": {"field": "t"}}},
{"data": {"values": [{"t": "H4"}]},
 "mark": {"type": "text", "fontSize": 18, "color": "#e8a010", "align": "right", "baseline": "middle"},
 "encoding": {
  "x": {"datum": 228.6, "type": "quantitative", "scale": {"domain": [-0.4, 235.84], "nice": false, "zero": false}, "axis": null},
  "y": {"datum": 187.853, "type": "quantitative", "scale": {"domain": [181.452, 188.3], "nice": false, "zero": false}, "axis": null},
  "text": {"field": "t"}}}
]
},
{
"width": 1015, "height": 230,
"title": {"text": "EURJPY.oj1m,H1", "anchor": "start", "frame": "group", "dx": 12, "offset": 6.5, "fontSize": 5.5, "font": "Liberation Sans", "fontWeight": "normal", "color": "#505a66"},
"layer": [
{"data": {"values": [{"v": 187.042}]},
 "mark": {"type": "rule", "color": "#137a13", "strokeWidth": 1.5},
 "encoding": {
  "x": {"datum": -0.4, "type": "quantitative", "scale": {"domain": [-0.4, 235.84], "nice": false, "zero": false}, "axis": null},
  "x2": {"datum": 230.02},
  "y": {"field": "v", "type": "quantitative", "scale": {"domain": [185.671, 188.079], "nice": false, "zero": false}, "axis": null}}},
{"data": {"values": [{"v": 187.261}]},
 "mark": {"type": "rule", "color": "#c4850e", "strokeWidth": 1},
 "encoding": {
  "x": {"datum": -0.4, "type": "quantitative", "scale": {"domain": [-0.4, 235.84], "nice": false, "zero": false}, "axis": null},
  "x2": {"datum": 230.02},
  "y": {"field": "v", "type": "quantitative", "scale": {"domain": [185.671, 188.079], "nice": false, "zero": false}, "axis": null}}},
{"data": {"values": [{"a": -0.4, "b": 230.02, "p": 185.765, "q": 185.765}, {"a": 230.02, "b": 230.02, "p": 185.765, "q": 188.079}]},
 "mark": {"type": "rule", "color": "#8c8c8c", "strokeWidth": 1},
 "encoding": {
  "x": {"field": "a", "type": "quantitative", "scale": {"domain": [-0.4, 235.84], "nice": false, "zero": false}, "axis": null},
  "x2": {"field": "b"},
  "y": {"field": "p", "type": "quantitative", "scale": {"domain": [185.671, 188.079], "nice": false, "zero": false}, "axis": null},
  "y2": {"field": "q"}}},
{"data": {"name": "h1t"},
 "mark": {"type": "rule", "color": "#8c8c8c", "strokeWidth": 1},
 "encoding": {
  "x": {"field": "i", "type": "quantitative", "scale": {"domain": [-0.4, 235.84], "nice": false, "zero": false}, "axis": null},
  "y": {"datum": 185.765, "type": "quantitative", "scale": {"domain": [185.671, 188.079], "nice": false, "zero": false}, "axis": null},
  "y2": {"datum": 185.692}}},
{"data": {"name": "h1y"},
 "mark": {"type": "rule", "color": "#8c8c8c", "strokeWidth": 1},
 "encoding": {
  "x": {"datum": 230.02, "type": "quantitative", "scale": {"domain": [-0.4, 235.84], "nice": false, "zero": false}, "axis": null},
  "x2": {"datum": 230.49},
  "y": {"field": "v", "type": "quantitative", "scale": {"domain": [185.671, 188.079], "nice": false, "zero": false}, "axis": null}}},
{"data": {"name": "h1y"},
 "mark": {"type": "text", "fontSize": 5.5, "color": "#b4b4b4", "align": "left", "baseline": "middle"},
 "encoding": {
  "x": {"datum": 230.72, "type": "quantitative", "scale": {"domain": [-0.4, 235.84], "nice": false, "zero": false}, "axis": null},
  "y": {"field": "v", "type": "quantitative", "scale": {"domain": [185.671, 188.079], "nice": false, "zero": false}, "axis": null},
  "text": {"field": "v", "type": "quantitative", "format": ".3f"}}},
{"data": {"name": "h1ma"},
 "mark": {"type": "line", "color": "#4468e0", "strokeWidth": 1.3, "interpolate": "monotone", "clip": true},
 "encoding": {
  "x": {"field": "i", "type": "quantitative", "scale": {"domain": [-0.4, 235.84], "nice": false, "zero": false}, "axis": null},
  "y": {"field": "m", "type": "quantitative", "scale": {"domain": [185.671, 188.079], "nice": false, "zero": false}, "axis": null}}},
{"data": {"name": "h1"},
 "mark": {"type": "rule", "strokeWidth": 1},
 "encoding": {
  "x": {"field": "i", "type": "quantitative", "scale": {"domain": [-0.4, 235.84], "nice": false, "zero": false}, "axis": null},
  "y": {"field": "l", "type": "quantitative", "scale": {"domain": [185.671, 188.079], "nice": false, "zero": false}, "axis": null},
  "y2": {"field": "h"},
  "color": {"condition": {"test": "datum.c >= datum.o", "value": "#22c8d6"}, "value": "#ff4a12"}}},
{"data": {"name": "h1"},
 "mark": {"type": "rule", "strokeWidth": 3, "strokeCap": "butt"},
 "encoding": {
  "x": {"field": "i", "type": "quantitative", "scale": {"domain": [-0.4, 235.84], "nice": false, "zero": false}, "axis": null},
  "y": {"field": "o", "type": "quantitative", "scale": {"domain": [185.671, 188.079], "nice": false, "zero": false}, "axis": null},
  "y2": {"field": "c"},
  "color": {"condition": {"test": "datum.c >= datum.o", "value": "#22c8d6"}, "value": "#ff4a12"}}},
{"data": {"name": "h1t"},
 "mark": {"type": "text", "fontSize": 5.3, "color": "#b4b4b4", "align": "left", "baseline": "top", "dx": 2},
 "encoding": {
  "x": {"field": "i", "type": "quantitative", "scale": {"domain": [-0.4, 235.84], "nice": false, "zero": false}, "axis": null},
  "y": {"datum": 185.749, "type": "quantitative", "scale": {"domain": [185.671, 188.079], "nice": false, "zero": false}, "axis": null},
  "text": {"field": "t"}}},
{"data": {"values": [{"v": 187.261}]},
 "mark": {"type": "tick", "orient": "horizontal", "size": 22, "thickness": 7, "opacity": 1, "color": "#f2a20c"},
 "encoding": {
  "x": {"datum": 232.81, "type": "quantitative", "scale": {"domain": [-0.4, 235.84], "nice": false, "zero": false}, "axis": null},
  "y": {"field": "v", "type": "quantitative", "scale": {"domain": [185.671, 188.079], "nice": false, "zero": false}, "axis": null}}},
{"data": {"values": [{"v": 187.042}]},
 "mark": {"type": "tick", "orient": "horizontal", "size": 22, "thickness": 7, "opacity": 1, "color": "#3cc43c"},
 "encoding": {
  "x": {"datum": 232.81, "type": "quantitative", "scale": {"domain": [-0.4, 235.84], "nice": false, "zero": false}, "axis": null},
  "y": {"field": "v", "type": "quantitative", "scale": {"domain": [185.671, 188.079], "nice": false, "zero": false}, "axis": null}}},
{"data": {"values": [{"v": 187.261}, {"v": 187.042}]},
 "mark": {"type": "text", "fontSize": 5.5, "color": "#202020", "align": "center", "baseline": "middle"},
 "encoding": {
  "x": {"datum": 232.81, "type": "quantitative", "scale": {"domain": [-0.4, 235.84], "nice": false, "zero": false}, "axis": null},
  "y": {"field": "v", "type": "quantitative", "scale": {"domain": [185.671, 188.079], "nice": false, "zero": false}, "axis": null},
  "text": {"field": "v", "type": "quantitative", "format": ".3f"}}},
{"data": {"values": [{"t": "EUR JPY  メイン"}]},
 "mark": {"type": "text", "fontSize": 13, "font": "Liberation Sans, Noto Sans CJK JP", "color": "#ffffff", "align": "left", "baseline": "middle"},
 "encoding": {
  "x": {"datum": -0.17, "type": "quantitative", "scale": {"domain": [-0.4, 235.84], "nice": false, "zero": false}, "axis": null},
  "y": {"datum": 187.938, "type": "quantitative", "scale": {"domain": [185.671, 188.079], "nice": false, "zero": false}, "axis": null},
  "text": {"field": "t"}}},
{"data": {"values": [{"t": "▾ EURJPY.oj1m,H1  187.180 187.283 187.178 187.265"}]},
 "mark": {"type": "text", "fontSize": 5.3, "color": "#c0c0c0", "align": "left", "baseline": "middle"},
 "encoding": {
  "x": {"datum": 0.3, "type": "quantitative", "scale": {"domain": [-0.4, 235.84], "nice": false, "zero": false}, "axis": null},
  "y": {"datum": 188.032, "type": "quantitative", "scale": {"domain": [185.671, 188.079], "nice": false, "zero": false}, "axis": null},
  "text": {"field": "t"}}},
{"data": {"values": [{"t": "H1"}]},
 "mark": {"type": "text", "fontSize": 16, "color": "#2ea862", "align": "right", "baseline": "middle"},
 "encoding": {
  "x": {"datum": 229.0, "type": "quantitative", "scale": {"domain": [-0.4, 235.84], "nice": false, "zero": false}, "axis": null},
  "y": {"datum": 187.953, "type": "quantitative", "scale": {"domain": [185.671, 188.079], "nice": false, "zero": false}, "axis": null},
  "text": {"field": "t"}}}
]
}
]
}
